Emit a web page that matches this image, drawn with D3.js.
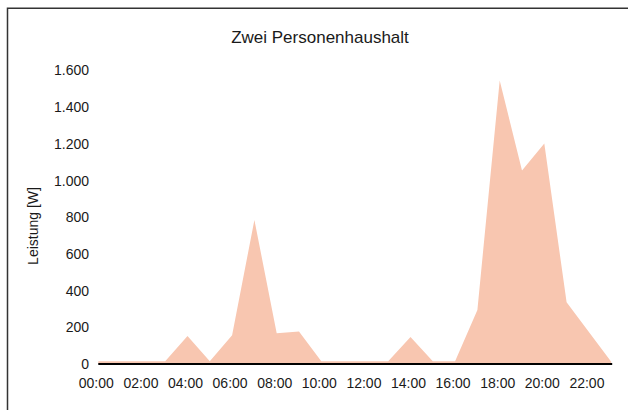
<!DOCTYPE html>
<html>
<head>
<meta charset="utf-8">
<script src="https://cdn.jsdelivr.net/npm/d3@7"></script>
<style>
  body { margin: 0; background: #fff; }
  svg text { font-family: "Liberation Sans", Arial, Helvetica, sans-serif; fill: #1a1a1a; }
</style>
</head>
<body>
<div id="chart"></div>
<script>
// hourly load profile, one value per hour
var hours = ["00:00", "01:00", "02:00", "03:00", "04:00", "05:00", "06:00", "07:00",
    "08:00", "09:00", "10:00", "11:00", "12:00", "13:00", "14:00", "15:00",
    "16:00", "17:00", "18:00", "19:00", "20:00", "21:00", "22:00", "23:00"];
var leistung = [15, 15, 15, 15, 153, 15, 157, 785,
    168, 177, 15, 15, 15, 15, 147, 15,
    15, 295, 1546, 1055, 1202, 336, 175, 12];
var yTicks = [0, 200, 400, 600, 800, 1000, 1200, 1400, 1600];
var title = "Zwei Personenhaushalt";
var yTitle = "Leistung [W]";

var width = 628, height = 410;
var svg = d3.select("#chart").append("svg")
    .attr("width", width)
    .attr("height", height);

// frame (only top and left edge are visible in the picture)
svg.append("path")
    .attr("d", "M7.5,420V8.25H640")
    .attr("fill", "none")
    .attr("stroke", "#333")
    .attr("stroke-width", 1.5);

var x = d3.scalePoint()
    .domain(hours)
    .range([98.3, 611.2]);

var y = d3.scaleLinear()
    .domain([0, 1600])
    .range([364, 70.5]);

var area = d3.area()
    .x(function (d, i) { return x(hours[i]); })
    .y0(y(0))
    .y1(function (d) { return y(d); });

svg.append("path")
    .datum(leistung)
    .attr("d", area)
    .attr("fill", "#f8c6b0");

// base line
svg.append("line")
    .attr("x1", x(hours[0]))
    .attr("x2", x(hours[hours.length - 1]) + 1)
    .attr("y1", y(0))
    .attr("y2", y(0))
    .attr("stroke", "#000")
    .attr("stroke-width", 2);

// y tick labels
var yAxis = d3.axisLeft(y)
    .tickValues(yTicks)
    .tickSize(0)
    .tickPadding(9)
    .tickFormat(function (d) { return d3.format(",")(d).replace(/,/g, "."); });

svg.append("g")
    .attr("transform", "translate(98,0)")
    .call(yAxis)
    .call(function (g) { g.select(".domain").remove(); })
    .selectAll("text")
    .style("font-size", "14px")
    .attr("fill", "#1a1a1a");

// x tick labels, every two hours
var xAxis = d3.axisBottom(x)
    .tickValues(hours.filter(function (d, i) { return i % 2 === 0; }))
    .tickSize(0)
    .tickPadding(14);

svg.append("g")
    .attr("transform", "translate(-2.5," + y(0) + ")")
    .call(xAxis)
    .call(function (g) { g.select(".domain").remove(); })
    .selectAll("text")
    .style("font-size", "14px")
    .attr("fill", "#1a1a1a");

svg.append("text")
    .attr("x", 320)
    .attr("y", 43)
    .attr("text-anchor", "middle")
    .style("font-size", "17px")
    .text(title);

svg.append("text")
    .attr("transform", "translate(38,226) rotate(-90)")
    .attr("text-anchor", "middle")
    .style("font-size", "14px")
    .text(yTitle);
</script>
</body>
</html>
